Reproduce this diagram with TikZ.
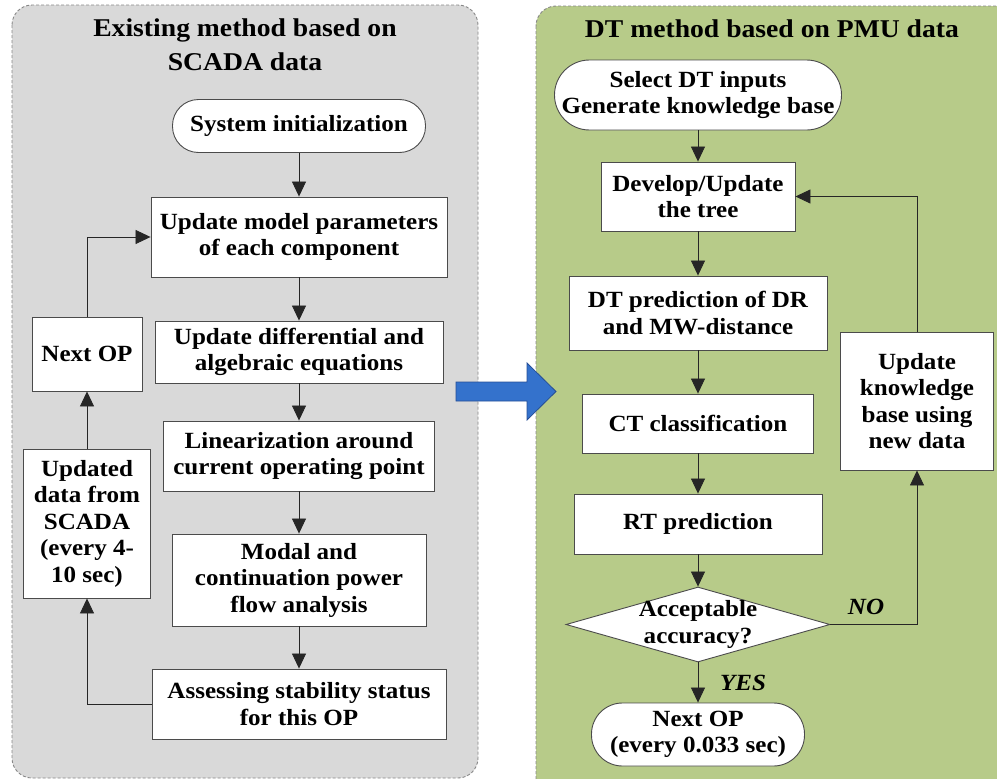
\documentclass[tikz,border=0pt]{standalone}
\usepackage{fontspec}
\setmainfont{Liberation Serif}[FakeStretch=1.08]
\usetikzlibrary{shapes.geometric,arrows.meta}
\definecolor{panelgray}{RGB}{217,217,217}
\definecolor{panelgreen}{RGB}{183,203,137}
\definecolor{framegray}{RGB}{135,135,135}
\definecolor{boxline}{RGB}{75,75,75}
\definecolor{bluefill}{RGB}{52,114,204}
\definecolor{blueline}{RGB}{38,78,150}

\begin{document}
\begin{tikzpicture}[x=1pt,y=-1pt,
  every node/.style={font=\fontsize{23.2}{26.5}\selectfont\bfseries, align=center, text=black},
  procbox/.style={draw=boxline, fill=white, line width=0.9pt, inner sep=0pt},
  termbox/.style={procbox, rounded corners=#1},
  panel/.style={draw=framegray, line width=0.9pt, dash pattern=on 3pt off 2pt, rounded corners=20pt},
  titletext/.style={font=\fontsize{25.6}{34}\selectfont\bfseries},
  flow/.style={draw=black!85, line width=0.8pt, -{Triangle[length=15pt,width=14pt]}},
  answer/.style={font=\fontsize{23.2}{27}\selectfont\bfseries\itshape}
]
\useasboundingbox (0,0) rectangle (997,779);
\clip (0,0) rectangle (997,779);

% background panels
\draw[panel, fill=panelgray] (12,5) rectangle (478,778);
\draw[panel, fill=panelgreen] (536,6) rectangle (1040,830);

% transition arrow between the two methods
\draw[fill=bluefill, draw=blueline, line width=0.8pt]
  (456,382) -- (527,382) -- (527,363) -- (556,391.5) -- (527,420) -- (527,401) -- (456,401) -- cycle;

% ---------- existing method (SCADA) ----------
\node[titletext] (ltitle) at (245,45) {Existing method based on\\SCADA data};

\node[termbox=26pt, minimum width=253pt, minimum height=53pt] (sysinit) at (299,126) {System initialization};
\node[procbox, minimum width=296pt, minimum height=80pt] (updmodel) at (299,237) {Update model parameters\\of each component};
\node[procbox, minimum width=288pt, minimum height=62pt] (upddiff) at (299,352) {Update differential and\\algebraic equations};
\node[procbox, minimum width=271pt, minimum height=70pt] (linear) at (299,456) {Linearization around\\current operating point};
\node[procbox, minimum width=254pt, minimum height=92pt] (modal) at (299,580) {Modal and\\continuation power\\flow analysis};
\node[procbox, minimum width=294pt, minimum height=70pt] (assess) at (299,704) {Assessing stability status\\for this OP};
\node[procbox, minimum width=110pt, minimum height=74pt] (nextop) at (87,354) {Next OP};
\node[procbox, minimum width=127pt, minimum height=149pt] (scada) at (87,523.5) {Updated\\data from\\SCADA\\(every 4-\\10 sec)};

\draw[flow] (sysinit) -- (updmodel);
\draw[flow] (updmodel) -- (upddiff);
\draw[flow] (upddiff) -- (linear);
\draw[flow] (linear) -- (modal);
\draw[flow] (modal) -- (assess);
\draw[flow] (assess.west) -| (scada.south);
\draw[flow] (scada.north) -- (nextop.south);
\draw[flow] (nextop.north) |- (updmodel.west);

% ---------- DT method (PMU) ----------
\node[titletext] (rtitle) at (772,29) {DT method based on PMU data};

\node[termbox=35pt, minimum width=287pt, minimum height=70pt] (select) at (698,95) {Select DT inputs\\Generate knowledge base};
\node[procbox, minimum width=194pt, minimum height=69pt] (develop) at (698,196.5) {Develop/Update\\the tree};
\node[procbox, minimum width=258pt, minimum height=74pt] (dtpred) at (698,313) {DT prediction of DR\\and MW-distance};
\node[procbox, minimum width=231pt, minimum height=59pt] (ctclass) at (698,423.5) {CT classification};
\node[procbox, minimum width=248pt, minimum height=60pt] (rtpred) at (698,524) {RT prediction};
\node[diamond, procbox, aspect=3.5, minimum width=264pt, minimum height=75pt] (acc) at (698,624.5) {};
\node (acctext) at (acc) {Acceptable\\accuracy?};
\node[termbox=31pt, minimum width=213pt, minimum height=63pt] (nextop2) at (698,734.5) {Next OP\\(every 0.033 sec)};
\node[procbox, minimum width=153pt, minimum height=138pt] (know) at (917,401) {Update\\knowledge\\base using\\new data};

\draw[flow] (select) -- (develop);
\draw[flow] (develop) -- (dtpred);
\draw[flow] (dtpred) -- (ctclass);
\draw[flow] (ctclass) -- (rtpred);
\draw[flow] (rtpred) -- (acc);
\draw[flow] (acc.south) -- (nextop2.north);
\draw[flow] (acc.east) -| (know.south);
\draw[flow] (know.north) |- (develop.east);

\node[answer] (nolabel) at (866,607) {NO};
\node[answer] (yeslabel) at (743,683) {YES};
\end{tikzpicture}
\end{document}
